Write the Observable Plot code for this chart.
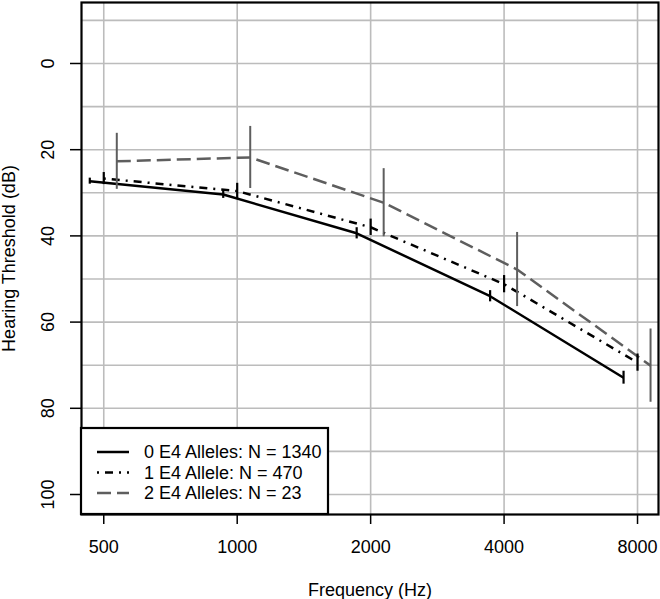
<!DOCTYPE html>
<html>
<head>
<meta charset="utf-8">
<script src="https://cdn.jsdelivr.net/npm/d3@7"></script>
<script src="https://cdn.jsdelivr.net/npm/@observablehq/plot@0.6"></script>
<style>
  html, body { margin: 0; padding: 0; background: white; }
  #chart { width: 660px; height: 599px; }
</style>
</head>
<body>
<div id="chart"></div>
<script>
// ---- data ----
const freqs = [500, 1000, 2000, 4000, 8000];
const xTickLabels = ["500", "1000", "2000", "4000", "8000"];
const yTicks = [0, 20, 40, 60, 80, 100];
const yGrid = [-10, 0, 10, 20, 30, 40, 50, 60, 70, 80, 90, 100];
const seriesNames = ["0 E4 Alleles: N = 1340", "1 E4 Allele: N = 470", "2 E4 Alleles: N = 23"];
const xShift = [0.93, 1.0, 1.07]; // horizontal jitter of each group
const mean0 = [27.3, 30.4, 39.4, 54.0, 72.9];
const err0  = [0.7, 0.9, 1.3, 1.3, 1.5];
const mean1 = [26.7, 29.6, 38.0, 51.2, 69.4];
const err1  = [1.4, 1.8, 1.9, 2.0, 2.0];
const mean2 = [22.7, 21.8, 32.3, 47.8, 70.1];
const err2  = [6.5, 7.2, 7.9, 8.6, 8.5];

const means = [mean0, mean1, mean2];
const errs = [err0, err1, err2];
const colors = ["#000000", "#000000", "#5e5e5e"];
const dashes = [null, "2,6,8,6", "14,6"];

const rows = [];
means.forEach((m, s) => m.forEach((v, i) => rows.push({
  s, x: freqs[i] * xShift[s], y: v, lo: v - errs[s][i], hi: v + errs[s][i]
})));

const font = "'Liberation Sans', Arial, Helvetica, sans-serif";
const FS = 18;

const lineMarks = [0, 1, 2].map(s => Plot.line(rows.filter(d => d.s === s), {
  x: "x", y: "y", stroke: colors[s], strokeWidth: 2.5,
  strokeDasharray: dashes[s] ?? undefined, strokeLinecap: "butt", strokeLinejoin: "round"
}));
const errMarks = [0, 1, 2].map(s => Plot.ruleX(rows.filter(d => d.s === s), {
  x: "x", y1: "lo", y2: "hi", stroke: colors[s], strokeWidth: s === 2 ? 2 : 2.2
}));

const chart = Plot.plot({
  width: 660, height: 599,
  marginLeft: 81, marginRight: 2, marginTop: 2, marginBottom: 85,
  x: {type: "log", domain: [445.4, 8921], axis: null},
  y: {domain: [-14.15, 104.64], reverse: true, axis: null},
  style: {fontFamily: font, fontSize: FS + "px", background: "white", color: "black"},
  marks: [
    Plot.ruleX(freqs, {x: d => d, stroke: "#bcbcbc", strokeWidth: 1.6}),
    Plot.ruleY(yGrid, {y: d => d, stroke: "#bcbcbc", strokeWidth: 1.6}),
    ...lineMarks,
    ...errMarks,
    Plot.axisX({ticks: freqs, tickSize: 10, tickFormat: () => "", label: null, stroke: "black", strokeWidth: 1.5}),
    Plot.axisY({ticks: yTicks, tickSize: 11, tickFormat: () => "", label: null, stroke: "black", strokeWidth: 1.5}),
    Plot.text(freqs, {x: d => d, text: (d, i) => xTickLabels[i], frameAnchor: "bottom", dy: 33,
      lineAnchor: "middle", fontSize: FS, fill: "black"}),
    Plot.text(yTicks, {y: d => d, text: d => String(d), frameAnchor: "left", dx: -33, rotate: -90,
      textAnchor: "middle", lineAnchor: "middle", fontSize: FS, fill: "black"}),
    Plot.text(["Frequency (Hz)"], {text: d => d, frameAnchor: "bottom", dy: 76, lineAnchor: "middle",
      fontSize: FS, fill: "black"}),
    Plot.text(["Hearing Threshold (dB)"], {text: d => d, frameAnchor: "left", dx: -72, rotate: -90,
      lineAnchor: "middle", textAnchor: "middle", fontSize: FS, fill: "black"}),
    Plot.frame({stroke: "black", strokeWidth: 2.2})
  ]
});
document.getElementById("chart").appendChild(chart);

// ---- legend (bottom-left, inside the plot box) ----
const svg = d3.select(chart);
const lg = svg.append("g").attr("font-family", font).attr("font-size", FS).attr("text-anchor", "start");
lg.append("rect").attr("x", 81).attr("y", 428).attr("width", 247).attr("height", 86)
  .attr("fill", "white").attr("stroke", "black").attr("stroke-width", 2.2);
seriesNames.forEach((name, s) => {
  const yy = 452 + s * 20.5;
  lg.append("line").attr("x1", 97).attr("x2", 129).attr("y1", yy).attr("y2", yy)
    .attr("stroke", colors[s]).attr("stroke-width", 2.5)
    .attr("stroke-dasharray", dashes[s] ?? null);
  lg.append("text").attr("x", 144).attr("y", yy).attr("dy", "0.35em")
    .attr("text-anchor", "start").attr("fill", "black").text(name);
});
</script>
</body>
</html>
